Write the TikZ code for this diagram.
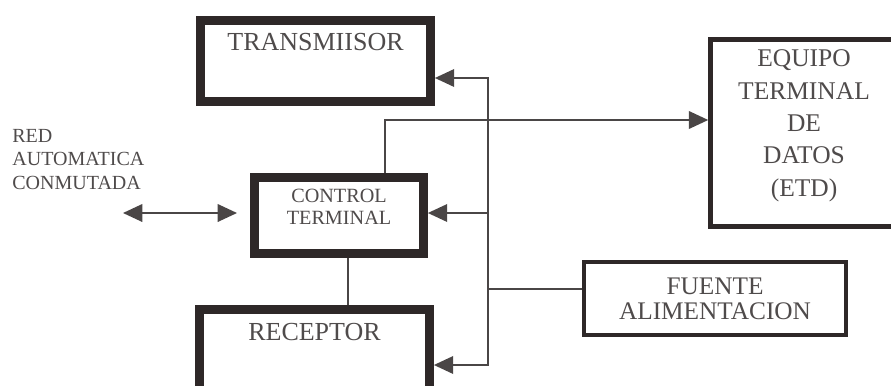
\documentclass[tikz,border=0pt]{standalone}
\usepackage{fontspec}
\setmainfont{Liberation Serif}
\usetikzlibrary{arrows.meta,positioning,calc}
\definecolor{mdink}{HTML}{2E2828}
\definecolor{mdline}{HTML}{4A4646}
\definecolor{mdtext}{HTML}{4F4B4B}
\newcommand{\liftText}[2]{\raisebox{#1}[\height][\depth]{\begin{tabular}{@{}c@{}}#2\end{tabular}}}
\tikzset{
  thickBox/.style={draw=mdink, line width=5pt, fill=white, inner sep=0pt, text=mdtext, minimum width=4.6cm, minimum height=1.62cm, font=\fontsize{14.8pt}{18pt}\selectfont, text height=10pt, text depth=22pt},
  thinBox/.style={draw=mdink, line width=2.6pt, fill=white, align=center, inner sep=0pt, text=mdtext, font=\fontsize{14.5pt}{18.4pt}\selectfont},
  flowLine/.style={draw=mdline, line width=1pt},
  flowArrow/.style={-{Triangle[length=11pt,width=10pt]}, flowLine},
  bothArrow/.style={{Triangle[length=11pt,width=10pt]}-{Triangle[length=11pt,width=10pt]}, flowLine},
  sideLabel/.style={align=left, inner sep=0pt, text=mdtext, font=\fontsize{11.4pt}{13.6pt}\selectfont}
}

\begin{document}
\begin{tikzpicture}[x=0.02cm, y=-0.02cm]
  \useasboundingbox (0,0) rectangle (891,385);

  \node[thickBox, text height=, text depth=, minimum width=3.38cm, minimum height=1.52cm, font=\fontsize{11.5pt}{12.5pt}\selectfont] (ctl) at (339,215.5) {\liftText{3.4pt}{CONTROL\\TERMINAL}};
  \node[thickBox] (tx) at (315.5,61) {TRANSMIISOR};
  \node[thickBox, text depth=21pt] (rx) at (314.5,350) {RECEPTOR};
  \node[thinBox, minimum width=3.74cm, minimum height=3.74cm] (etd) at (804,133) {\liftText{4.5pt}{EQUIPO\\TERMINAL\\DE\\DATOS\\(ETD)}};
  \node[thinBox, line width=2.3pt, minimum width=5.24cm, minimum height=1.46cm, font=\fontsize{14.4pt}{14.2pt}\selectfont] (pwr) at (715,298.5) {FUENTE\\ALIMENTACION};
  \node[sideLabel, anchor=west] (net) at (12,159.5) {RED\\AUTOMATICA\\CONMUTADA};

  % bus and tap points
  \coordinate (btop) at (488,78);
  \coordinate (bmid) at (488,213);
  \coordinate (bpow) at (488,289);
  \coordinate (bbot) at (488,365);
  \coordinate (ctop) at (385,120);
  \coordinate (link) at (348,280);
  \coordinate (netL) at (123,213);
  \coordinate (netR) at (237,213);

  \draw[bothArrow] (btop -| tx.east) -- (btop) -- (bbot) -- (bbot -| rx.east);
  \draw[flowArrow] (bmid) -- (bmid -| ctl.east);
  \draw[flowLine] (bpow) -- (bpow -| pwr.west);
  \draw[flowArrow] (ctop |- ctl.north) -- (ctop) -- (ctop -| etd.west);
  \draw[flowLine] (link |- ctl.south) -- (link |- rx.north);
  \draw[bothArrow] (netL) -- (netR);
\end{tikzpicture}
\end{document}
